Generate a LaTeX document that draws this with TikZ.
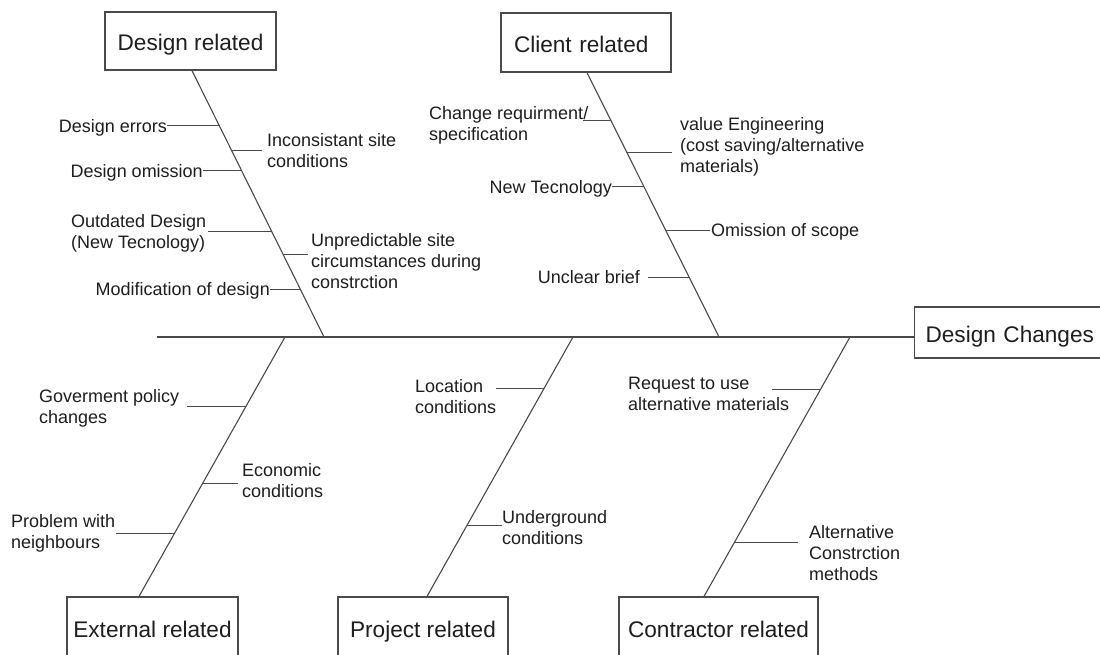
\documentclass[tikz,border=0pt]{standalone}
\usepackage{fontspec}
\setmainfont{Liberation Sans}
\definecolor{ln}{HTML}{4A4A4A}
\definecolor{tx}{HTML}{1E1E1E}
\begin{document}
\begin{tikzpicture}[x=1pt,y=-1pt,
  lbl/.style={inner sep=0pt, align=left, text=tx, font=\fontsize{18}{21}\selectfont},
  box/.style={draw=ln, line width=1.2pt, fill=white, text=tx, inner sep=0pt,
    font=\fontsize{22.6}{26}\selectfont, text height=20pt, text depth=0pt},
  bone/.style={draw=ln, line width=1.1pt},
  rib/.style={draw=ln, line width=1pt}]
\useasboundingbox (0,0) rectangle (1100,655);
\clip (0,0) rectangle (1100,655);
\fill[white] (0,0) rectangle (1100,655);

% head and category boxes
\node[box, anchor=west, minimum width=200pt, minimum height=51pt, inner xsep=11pt, text width=178pt, align=left] (dc) at (914,332.5) {Design Changes};
\node[box, minimum width=171pt, minimum height=58pt] (dr) at (190.5,41) {Design related};
\node[box, minimum width=170pt, minimum height=59pt, inner xsep=13pt, text width=144pt, align=left] (cl) at (586,42.5) {Client related};
\node[box, minimum width=171pt, minimum height=60pt] (ex) at (152.5,627) {External related};
\node[box, minimum width=170pt, minimum height=60pt] (pr) at (423,627) {Project related};
\node[box, minimum width=199pt, minimum height=60pt] (ct) at (718.5,627) {Contractor related};

% spine points
\coordinate (sL) at (157,337);
\coordinate (sD) at (324,337);
\coordinate (sC) at (719,337);
\coordinate (sE) at (285,337);
\coordinate (sP) at (573,337);
\coordinate (sT) at (850,337);

\draw[bone] (sL) -- (sL -| dc.west);
\draw[bone] ([xshift=1.5pt]dr.south) -- (sD);
\draw[bone] ([xshift=1pt]cl.south) -- (sC);
\draw[bone] (sE) -- ([xshift=-13.5pt]ex.north);
\draw[bone] (sP) -- ([xshift=4pt]pr.north);
\draw[bone] (sT) -- ([xshift=-14.5pt]ct.north);

% Design related causes
\coordinate (bd1) at (219.7,126);
\coordinate (bd2) at (232,151);
\coordinate (bd3) at (241.9,171);
\coordinate (bd4) at (271.6,231);
\coordinate (bd5) at (283,254);
\coordinate (bd6) at (300.3,289);
\node[lbl, anchor=north east] (d1) at (167,119.5) {Design errors};
\node[lbl, anchor=north west] (d2) at (267,133.5) {Inconsistant site\\conditions};
\node[lbl, anchor=north east] (d3) at (203,164.5) {Design omission};
\node[lbl, anchor=north west] (d4) at (71,214.5) {Outdated Design\\(New Tecnology)};
\node[lbl, anchor=north west] (d5) at (311,233.5) {Unpredictable site\\circumstances during\\constrction};
\node[lbl, anchor=north east] (d6) at (270,282.5) {Modification of design};
\draw[rib] (bd1) -- (bd1 -| d1.east);
\draw[rib, shorten >=5pt] (bd2) -- (bd2 -| d2.west);
\draw[rib] (bd3) -- (bd3 -| d3.east);
\draw[rib, shorten >=2pt] (bd4) -- (bd4 -| d4.east);
\draw[rib, shorten >=3pt] (bd5) -- (bd5 -| d5.west);
\draw[rib] (bd6) -- (bd6 -| d6.east);

% Client related causes
\coordinate (bc1) at (611.4,121);
\coordinate (bc2) at (627.3,153);
\coordinate (bc3) at (644.3,187);
\coordinate (bc4) at (665.7,230);
\coordinate (bc5) at (689.1,277);
\node[lbl, anchor=north west] (c1) at (429,106.5) {Change requirment/\\specification};
\node[lbl, anchor=north west] (c2) at (680,117.5) {value Engineering\\(cost saving/alternative\\materials)};
\node[lbl, anchor=north east] (c3) at (612,180.5) {New Tecnology};
\node[lbl, anchor=north west] (c4) at (711,223.5) {Omission of scope};
\node[lbl, anchor=north east] (c5) at (640,270.5) {Unclear brief};
\draw[rib, shorten >=-5pt] (bc1) -- (bc1 -| c1.east);
\draw[rib, shorten >=8pt] (bc2) -- (bc2 -| c2.west);
\draw[rib] (bc3) -- (bc3 -| c3.east);
\draw[rib, shorten >=1pt] (bc4) -- (bc4 -| c4.west);
\draw[rib, shorten >=8pt] (bc5) -- (bc5 -| c5.east);

% External related causes
\coordinate (be1) at (246.3,406);
\coordinate (be2) at (203,483);
\coordinate (be3) at (174.9,533);
\node[lbl, anchor=north west] (e1) at (39,389.5) {Goverment policy\\changes};
\node[lbl, anchor=north west] (e2) at (242,463.5) {Economic\\conditions};
\node[lbl, anchor=north west] (e3) at (11,514.5) {Problem with\\neighbours};
\draw[rib, shorten >=8pt] (be1) -- (be1 -| e1.east);
\draw[rib, shorten >=4pt] (be2) -- (be2 -| e2.west);
\draw[rib, shorten >=1pt] (be3) -- (be3 -| e3.east);

% Project related causes
\coordinate (bp1) at (544.4,388);
\coordinate (bp2) at (467.4,525);
\node[lbl, anchor=north west] (p1) at (415,379.5) {Location\\conditions};
\node[lbl, anchor=north west] (p2) at (502,510.5) {Underground\\conditions};
\draw[rib] (bp1) -- (bp1 -| p1.east);
\draw[rib] (bp2) -- (bp2 -| p2.west);

% Contractor related causes
\coordinate (bt1) at (820.8,389);
\coordinate (bt2) at (734.9,542);
\node[lbl, anchor=north west] (t1) at (628,376.5) {Request to use\\alternative materials};
\node[lbl, anchor=north west] (t2) at (809,525.5) {Alternative\\Constrction\\methods};
\draw[rib, shorten >=-17pt] (bt1) -- (bt1 -| t1.east);
\draw[rib, shorten >=11pt] (bt2) -- (bt2 -| t2.west);
\end{tikzpicture}
\end{document}
